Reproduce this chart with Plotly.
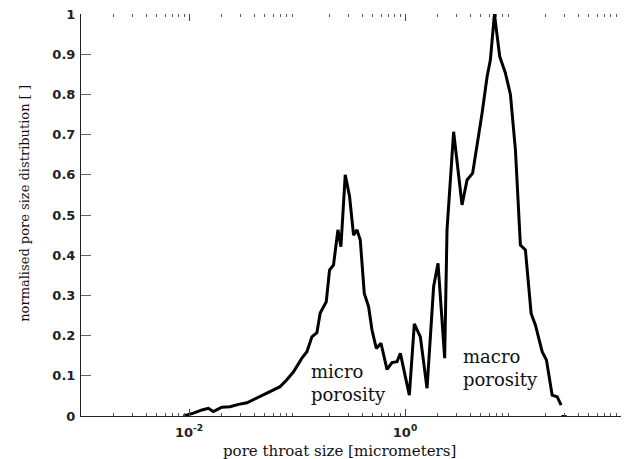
import plotly.graph_objects as go

# pore throat size [micrometers]
pore_size = [0.00887, 0.0110, 0.0132, 0.0151, 0.0168, 0.0201, 0.0240, 0.0287, 0.0344, 0.0395,
             0.0489, 0.0606, 0.0698, 0.0805, 0.0929, 0.111, 0.1235, 0.1374, 0.1528, 0.164,
             0.1866, 0.2001, 0.2179, 0.2393, 0.2551, 0.2797, 0.3067, 0.334, 0.3593, 0.3853,
             0.4196, 0.4602, 0.4947, 0.5422, 0.5993, 0.6813, 0.758, 0.8436, 0.9057, 1.007,
             1.097, 1.22, 1.387, 1.6, 1.841, 2.022, 2.33, 2.449, 2.82, 3.373,
             3.756, 4.23, 4.645, 5.171, 5.754, 6.176, 6.73, 7.538, 8.507, 9.465,
             10.53, 11.71, 13.03, 14.72, 16.14, 18.62, 20.41, 23.03, 25.63, 27.92]
# normalised pore size distribution
distribution = [0.0, 0.007, 0.015, 0.019, 0.011, 0.022, 0.023, 0.029, 0.033, 0.041,
                0.052, 0.066, 0.073, 0.09, 0.11, 0.144, 0.16, 0.197, 0.207, 0.256,
                0.284, 0.363, 0.376, 0.463, 0.421, 0.60, 0.546, 0.45, 0.463, 0.438,
                0.305, 0.272, 0.214, 0.168, 0.181, 0.116, 0.133, 0.135, 0.156, 0.098,
                0.052, 0.229, 0.197, 0.069, 0.322, 0.38, 0.144, 0.463, 0.707, 0.525,
                0.587, 0.604, 0.67, 0.753, 0.844, 0.886, 1.0, 0.894, 0.853, 0.80,
                0.662, 0.425, 0.413, 0.255, 0.226, 0.16, 0.139, 0.052, 0.048, 0.027]
# short trailing zero segment
tail_size = [28.1, 31.3]
tail_dist = [0.0, 0.0]

major_ticks = [0.01, 1, 100]
major_text = ["10<sup>-2</sup>", "10<sup>0</sup>", "10<sup>2</sup>"]
minor_ticks = [m * 10 ** e for e in range(-3, 2) for m in range(2, 10)]

x_title = "pore throat size [micrometers]"
y_title = "normalised pore size distribution [ ]"

serif = "DejaVu Serif"
tickfont = dict(family="DejaVu Sans", size=13, color="#222", weight="bold")

fig = go.Figure()
fig.add_trace(go.Scatter(x=pore_size, y=distribution, mode="lines",
                         line=dict(color="black", width=3), showlegend=False))
fig.add_trace(go.Scatter(x=tail_size, y=tail_dist, mode="lines",
                         line=dict(color="black", width=2), showlegend=False))
# dummy trace for top mirrored tick axis
fig.add_trace(go.Scatter(x=[1], y=[None], xaxis="x2", yaxis="y", mode="lines",
                         showlegend=False, hoverinfo="skip"))

fig.update_layout(
    width=628, height=459,
    margin=dict(l=81, r=7, t=14, b=43),
    plot_bgcolor="white", paper_bgcolor="white",
    xaxis=dict(
        type="log", range=[-3, 2],
        showline=True, linecolor="#222", linewidth=1,
        showgrid=False, zeroline=False,
        ticks="inside", ticklen=7, tickcolor="#444", tickwidth=1,
        tickvals=major_ticks, ticktext=major_text,
        tickfont=tickfont, ticklabelstandoff=4,
        minor=dict(tickvals=minor_ticks, ticks="inside", ticklen=3,
                   tickcolor="#555", tickwidth=1, showgrid=False),
    ),
    xaxis2=dict(
        type="log", range=[-3, 2], overlaying="x", side="top",
        showline=False, showgrid=False, zeroline=False,
        ticks="inside", ticklen=7, tickcolor="#444", tickwidth=1,
        tickvals=major_ticks, showticklabels=False,
        minor=dict(tickvals=minor_ticks, ticks="inside", ticklen=3,
                   tickcolor="#555", tickwidth=1, showgrid=False),
    ),
    yaxis=dict(
        range=[0, 1], dtick=0.1,
        showline=True, linecolor="#222", linewidth=1,
        showgrid=False, zeroline=False,
        ticks="inside", ticklen=10, tickcolor="#666", tickwidth=1,
        tickfont=tickfont, ticklabelstandoff=2,
    ),
    annotations=[
        dict(x=0.478, y=-0.087, xref="paper", yref="paper", text=x_title,
             showarrow=False, xanchor="center", yanchor="middle",
             font=dict(family=serif, size=15, color="#111")),
        dict(x=-0.104, y=0.53, xref="paper", yref="paper", text=y_title,
             showarrow=False, xanchor="center", yanchor="middle", textangle=-90,
             font=dict(family=serif, size=13, color="#111")),
        dict(x=-0.887, y=0.142, xref="x", yref="y", text="micro<br>porosity",
             showarrow=False, xanchor="left", yanchor="top", align="left",
             font=dict(family=serif, size=18, color="#111")),
        dict(x=0.52, y=0.178, xref="x", yref="y", text="macro<br>porosity",
             showarrow=False, xanchor="left", yanchor="top", align="left",
             font=dict(family=serif, size=18, color="#111")),
    ],
)

fig.write_html("out.html")
